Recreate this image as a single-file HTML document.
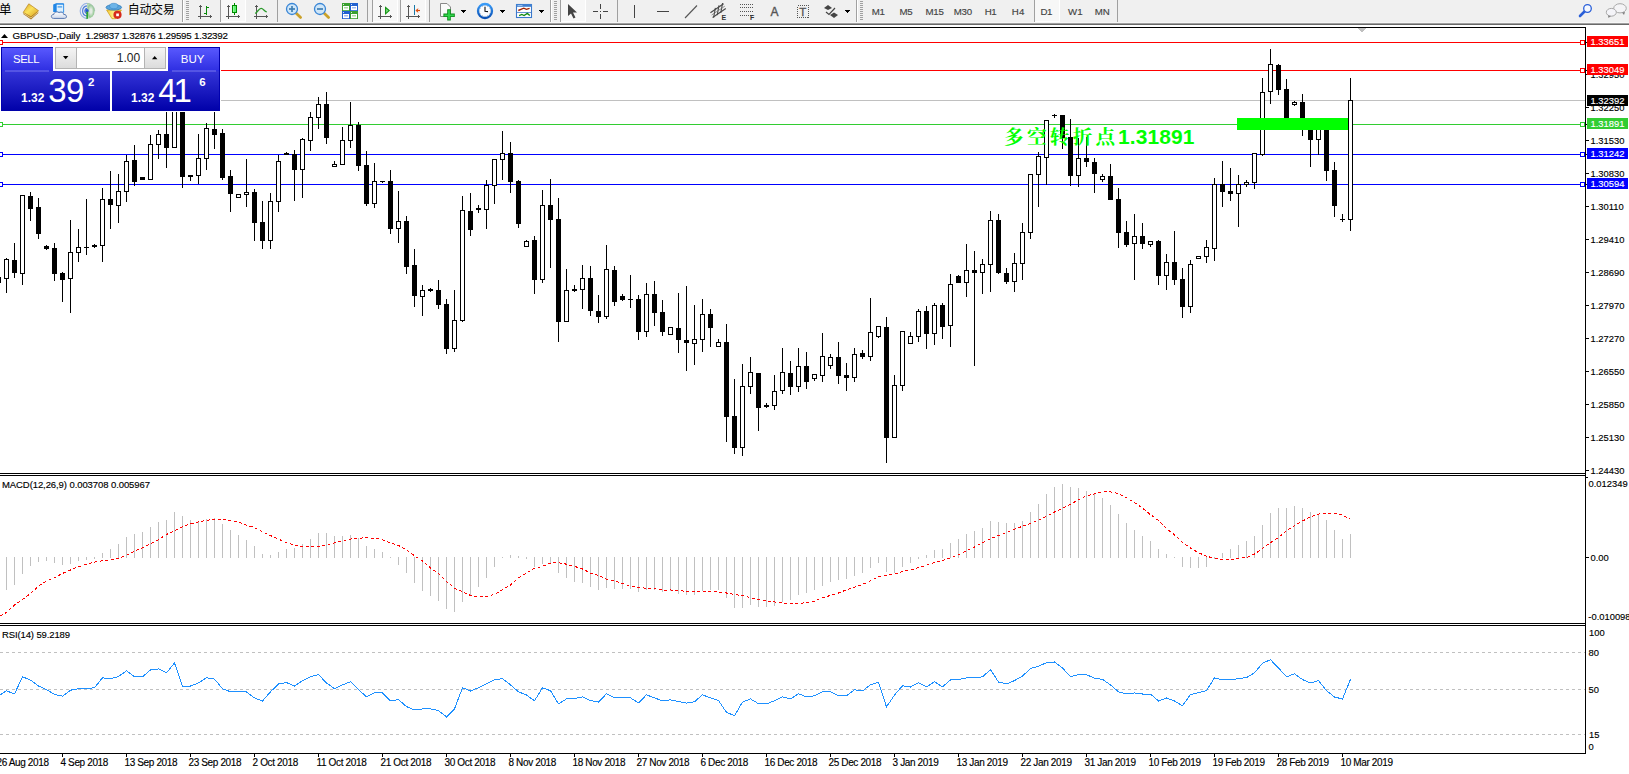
<!DOCTYPE html>
<html lang="zh"><head><meta charset="utf-8"><title>GBPUSD-,Daily</title>
<style>
html,body{margin:0;padding:0;background:#fff;overflow:hidden}
svg{display:block;font-family:"Liberation Sans","Noto Sans CJK SC",sans-serif}
text{white-space:pre}
</style></head><body>
<svg width="1629" height="774" viewBox="0 0 1629 774">
<rect x="0" y="0" width="1629" height="774" fill="#fff"/>
<g shape-rendering="crispEdges">
<rect x="0" y="100" width="1585" height="1" fill="#c0c0c0"/>
<rect x="0" y="42" width="1585" height="1" fill="#ff0000"/>
<rect x="0" y="70" width="1585" height="1" fill="#ff0000"/>
<rect x="0" y="124" width="1585" height="1" fill="#32cd32"/>
<rect x="0" y="154" width="1585" height="1" fill="#0000ff"/>
<rect x="0" y="184" width="1585" height="1" fill="#0000ff"/>
<rect x="-2" y="277" width="1" height="6" fill="#000"/>
<rect x="-4" y="277" width="5" height="6" fill="#000"/>
<rect x="6" y="258" width="1" height="35" fill="#000"/>
<rect x="4" y="259" width="5" height="20" fill="#000"/>
<rect x="5" y="260" width="3" height="18" fill="#fff"/>
<rect x="14" y="243" width="1" height="35" fill="#000"/>
<rect x="12" y="260" width="5" height="13" fill="#000"/>
<rect x="22" y="195" width="1" height="90" fill="#000"/>
<rect x="20" y="195" width="5" height="79" fill="#000"/>
<rect x="21" y="196" width="3" height="77" fill="#fff"/>
<rect x="30" y="192" width="1" height="29" fill="#000"/>
<rect x="28" y="196" width="5" height="13" fill="#000"/>
<rect x="38" y="198" width="1" height="41" fill="#000"/>
<rect x="36" y="207" width="5" height="27" fill="#000"/>
<rect x="46" y="245" width="1" height="5" fill="#000"/>
<rect x="44" y="246" width="5" height="3" fill="#000"/>
<rect x="54" y="243" width="1" height="38" fill="#000"/>
<rect x="52" y="248" width="5" height="26" fill="#000"/>
<rect x="62" y="272" width="1" height="30" fill="#000"/>
<rect x="60" y="273" width="5" height="7" fill="#000"/>
<rect x="70" y="220" width="1" height="93" fill="#000"/>
<rect x="68" y="252" width="5" height="27" fill="#000"/>
<rect x="69" y="253" width="3" height="25" fill="#fff"/>
<rect x="78" y="229" width="1" height="33" fill="#000"/>
<rect x="76" y="247" width="5" height="6" fill="#000"/>
<rect x="77" y="248" width="3" height="4" fill="#fff"/>
<rect x="86" y="199" width="1" height="56" fill="#000"/>
<rect x="84" y="247" width="5" height="1" fill="#000"/>
<rect x="94" y="244" width="1" height="4" fill="#000"/>
<rect x="92" y="245" width="5" height="2" fill="#000"/>
<rect x="102" y="188" width="1" height="74" fill="#000"/>
<rect x="100" y="199" width="5" height="47" fill="#000"/>
<rect x="101" y="200" width="3" height="45" fill="#fff"/>
<rect x="110" y="171" width="1" height="58" fill="#000"/>
<rect x="108" y="199" width="5" height="6" fill="#000"/>
<rect x="118" y="174" width="1" height="49" fill="#000"/>
<rect x="116" y="191" width="5" height="15" fill="#000"/>
<rect x="117" y="192" width="3" height="13" fill="#fff"/>
<rect x="126" y="155" width="1" height="47" fill="#000"/>
<rect x="124" y="161" width="5" height="31" fill="#000"/>
<rect x="125" y="162" width="3" height="29" fill="#fff"/>
<rect x="134" y="145" width="1" height="41" fill="#000"/>
<rect x="132" y="160" width="5" height="22" fill="#000"/>
<rect x="142" y="177" width="1" height="3" fill="#000"/>
<rect x="140" y="177" width="5" height="3" fill="#000"/>
<rect x="150" y="135" width="1" height="45" fill="#000"/>
<rect x="148" y="144" width="5" height="36" fill="#000"/>
<rect x="149" y="145" width="3" height="34" fill="#fff"/>
<rect x="158" y="130" width="1" height="29" fill="#000"/>
<rect x="156" y="134" width="5" height="11" fill="#000"/>
<rect x="157" y="135" width="3" height="9" fill="#fff"/>
<rect x="166" y="100" width="1" height="68" fill="#000"/>
<rect x="164" y="134" width="5" height="14" fill="#000"/>
<rect x="174" y="100" width="1" height="48" fill="#000"/>
<rect x="172" y="100" width="5" height="48" fill="#000"/>
<rect x="173" y="101" width="3" height="46" fill="#fff"/>
<rect x="182" y="100" width="1" height="88" fill="#000"/>
<rect x="180" y="100" width="5" height="77" fill="#000"/>
<rect x="190" y="175" width="1" height="6" fill="#000"/>
<rect x="188" y="175" width="5" height="2" fill="#000"/>
<rect x="198" y="134" width="1" height="50" fill="#000"/>
<rect x="196" y="158" width="5" height="18" fill="#000"/>
<rect x="197" y="159" width="3" height="16" fill="#fff"/>
<rect x="206" y="123" width="1" height="47" fill="#000"/>
<rect x="204" y="128" width="5" height="31" fill="#000"/>
<rect x="205" y="129" width="3" height="29" fill="#fff"/>
<rect x="214" y="100" width="1" height="49" fill="#000"/>
<rect x="212" y="129" width="5" height="6" fill="#000"/>
<rect x="222" y="129" width="1" height="51" fill="#000"/>
<rect x="220" y="133" width="5" height="45" fill="#000"/>
<rect x="230" y="170" width="1" height="42" fill="#000"/>
<rect x="228" y="176" width="5" height="18" fill="#000"/>
<rect x="238" y="194" width="1" height="4" fill="#000"/>
<rect x="236" y="194" width="5" height="4" fill="#000"/>
<rect x="237" y="195" width="3" height="2" fill="#fff"/>
<rect x="246" y="159" width="1" height="48" fill="#000"/>
<rect x="244" y="192" width="5" height="3" fill="#000"/>
<rect x="245" y="193" width="3" height="1" fill="#fff"/>
<rect x="254" y="189" width="1" height="52" fill="#000"/>
<rect x="252" y="192" width="5" height="31" fill="#000"/>
<rect x="262" y="201" width="1" height="48" fill="#000"/>
<rect x="260" y="222" width="5" height="19" fill="#000"/>
<rect x="270" y="193" width="1" height="56" fill="#000"/>
<rect x="268" y="201" width="5" height="40" fill="#000"/>
<rect x="269" y="202" width="3" height="38" fill="#fff"/>
<rect x="278" y="155" width="1" height="57" fill="#000"/>
<rect x="276" y="161" width="5" height="41" fill="#000"/>
<rect x="277" y="162" width="3" height="39" fill="#fff"/>
<rect x="286" y="152" width="1" height="3" fill="#000"/>
<rect x="284" y="153" width="5" height="2" fill="#000"/>
<rect x="294" y="150" width="1" height="51" fill="#000"/>
<rect x="292" y="154" width="5" height="16" fill="#000"/>
<rect x="302" y="138" width="1" height="60" fill="#000"/>
<rect x="300" y="139" width="5" height="31" fill="#000"/>
<rect x="301" y="140" width="3" height="29" fill="#fff"/>
<rect x="310" y="112" width="1" height="39" fill="#000"/>
<rect x="308" y="117" width="5" height="24" fill="#000"/>
<rect x="309" y="118" width="3" height="22" fill="#fff"/>
<rect x="318" y="97" width="1" height="32" fill="#000"/>
<rect x="316" y="104" width="5" height="14" fill="#000"/>
<rect x="317" y="105" width="3" height="12" fill="#fff"/>
<rect x="326" y="92" width="1" height="52" fill="#000"/>
<rect x="324" y="104" width="5" height="34" fill="#000"/>
<rect x="334" y="161" width="1" height="6" fill="#000"/>
<rect x="332" y="164" width="5" height="3" fill="#000"/>
<rect x="333" y="165" width="3" height="1" fill="#fff"/>
<rect x="342" y="127" width="1" height="38" fill="#000"/>
<rect x="340" y="140" width="5" height="25" fill="#000"/>
<rect x="341" y="141" width="3" height="23" fill="#fff"/>
<rect x="350" y="102" width="1" height="46" fill="#000"/>
<rect x="348" y="125" width="5" height="16" fill="#000"/>
<rect x="349" y="126" width="3" height="14" fill="#fff"/>
<rect x="358" y="122" width="1" height="49" fill="#000"/>
<rect x="356" y="125" width="5" height="41" fill="#000"/>
<rect x="366" y="151" width="1" height="55" fill="#000"/>
<rect x="364" y="165" width="5" height="39" fill="#000"/>
<rect x="374" y="163" width="1" height="45" fill="#000"/>
<rect x="372" y="181" width="5" height="23" fill="#000"/>
<rect x="373" y="182" width="3" height="21" fill="#fff"/>
<rect x="382" y="181" width="1" height="2" fill="#000"/>
<rect x="380" y="181" width="5" height="1" fill="#000"/>
<rect x="390" y="170" width="1" height="64" fill="#000"/>
<rect x="388" y="181" width="5" height="48" fill="#000"/>
<rect x="398" y="191" width="1" height="52" fill="#000"/>
<rect x="396" y="221" width="5" height="8" fill="#000"/>
<rect x="397" y="222" width="3" height="6" fill="#fff"/>
<rect x="406" y="216" width="1" height="58" fill="#000"/>
<rect x="404" y="221" width="5" height="46" fill="#000"/>
<rect x="414" y="249" width="1" height="58" fill="#000"/>
<rect x="412" y="265" width="5" height="31" fill="#000"/>
<rect x="422" y="285" width="1" height="31" fill="#000"/>
<rect x="420" y="290" width="5" height="7" fill="#000"/>
<rect x="421" y="291" width="3" height="5" fill="#fff"/>
<rect x="430" y="288" width="1" height="4" fill="#000"/>
<rect x="428" y="289" width="5" height="2" fill="#000"/>
<rect x="438" y="280" width="1" height="29" fill="#000"/>
<rect x="436" y="290" width="5" height="15" fill="#000"/>
<rect x="446" y="299" width="1" height="55" fill="#000"/>
<rect x="444" y="304" width="5" height="45" fill="#000"/>
<rect x="454" y="290" width="1" height="62" fill="#000"/>
<rect x="452" y="320" width="5" height="29" fill="#000"/>
<rect x="453" y="321" width="3" height="27" fill="#fff"/>
<rect x="462" y="196" width="1" height="126" fill="#000"/>
<rect x="460" y="210" width="5" height="111" fill="#000"/>
<rect x="461" y="211" width="3" height="109" fill="#fff"/>
<rect x="470" y="193" width="1" height="43" fill="#000"/>
<rect x="468" y="211" width="5" height="19" fill="#000"/>
<rect x="478" y="205" width="1" height="8" fill="#000"/>
<rect x="476" y="208" width="5" height="2" fill="#000"/>
<rect x="486" y="180" width="1" height="49" fill="#000"/>
<rect x="484" y="185" width="5" height="25" fill="#000"/>
<rect x="485" y="186" width="3" height="23" fill="#fff"/>
<rect x="494" y="159" width="1" height="45" fill="#000"/>
<rect x="492" y="159" width="5" height="27" fill="#000"/>
<rect x="493" y="160" width="3" height="25" fill="#fff"/>
<rect x="502" y="131" width="1" height="49" fill="#000"/>
<rect x="500" y="153" width="5" height="7" fill="#000"/>
<rect x="501" y="154" width="3" height="5" fill="#fff"/>
<rect x="510" y="142" width="1" height="51" fill="#000"/>
<rect x="508" y="153" width="5" height="29" fill="#000"/>
<rect x="518" y="180" width="1" height="48" fill="#000"/>
<rect x="516" y="181" width="5" height="43" fill="#000"/>
<rect x="526" y="240" width="1" height="7" fill="#000"/>
<rect x="524" y="241" width="5" height="6" fill="#000"/>
<rect x="525" y="242" width="3" height="4" fill="#fff"/>
<rect x="534" y="236" width="1" height="58" fill="#000"/>
<rect x="532" y="240" width="5" height="40" fill="#000"/>
<rect x="542" y="190" width="1" height="93" fill="#000"/>
<rect x="540" y="205" width="5" height="75" fill="#000"/>
<rect x="541" y="206" width="3" height="73" fill="#fff"/>
<rect x="550" y="179" width="1" height="89" fill="#000"/>
<rect x="548" y="205" width="5" height="15" fill="#000"/>
<rect x="558" y="198" width="1" height="144" fill="#000"/>
<rect x="556" y="219" width="5" height="103" fill="#000"/>
<rect x="566" y="269" width="1" height="53" fill="#000"/>
<rect x="564" y="290" width="5" height="32" fill="#000"/>
<rect x="565" y="291" width="3" height="30" fill="#fff"/>
<rect x="574" y="285" width="1" height="7" fill="#000"/>
<rect x="572" y="289" width="5" height="2" fill="#000"/>
<rect x="582" y="265" width="1" height="44" fill="#000"/>
<rect x="580" y="278" width="5" height="12" fill="#000"/>
<rect x="581" y="279" width="3" height="10" fill="#fff"/>
<rect x="590" y="266" width="1" height="50" fill="#000"/>
<rect x="588" y="278" width="5" height="33" fill="#000"/>
<rect x="598" y="295" width="1" height="28" fill="#000"/>
<rect x="596" y="311" width="5" height="6" fill="#000"/>
<rect x="606" y="245" width="1" height="74" fill="#000"/>
<rect x="604" y="269" width="5" height="48" fill="#000"/>
<rect x="605" y="270" width="3" height="46" fill="#fff"/>
<rect x="614" y="266" width="1" height="40" fill="#000"/>
<rect x="612" y="270" width="5" height="32" fill="#000"/>
<rect x="622" y="294" width="1" height="7" fill="#000"/>
<rect x="620" y="296" width="5" height="4" fill="#000"/>
<rect x="630" y="275" width="1" height="33" fill="#000"/>
<rect x="628" y="299" width="5" height="1" fill="#000"/>
<rect x="638" y="295" width="1" height="45" fill="#000"/>
<rect x="636" y="299" width="5" height="33" fill="#000"/>
<rect x="646" y="283" width="1" height="54" fill="#000"/>
<rect x="644" y="294" width="5" height="38" fill="#000"/>
<rect x="645" y="295" width="3" height="36" fill="#fff"/>
<rect x="654" y="281" width="1" height="45" fill="#000"/>
<rect x="652" y="294" width="5" height="19" fill="#000"/>
<rect x="662" y="300" width="1" height="36" fill="#000"/>
<rect x="660" y="312" width="5" height="20" fill="#000"/>
<rect x="670" y="327" width="1" height="8" fill="#000"/>
<rect x="668" y="327" width="5" height="8" fill="#000"/>
<rect x="669" y="328" width="3" height="6" fill="#fff"/>
<rect x="678" y="293" width="1" height="60" fill="#000"/>
<rect x="676" y="328" width="5" height="12" fill="#000"/>
<rect x="686" y="286" width="1" height="85" fill="#000"/>
<rect x="684" y="340" width="5" height="3" fill="#000"/>
<rect x="694" y="305" width="1" height="60" fill="#000"/>
<rect x="692" y="339" width="5" height="5" fill="#000"/>
<rect x="693" y="340" width="3" height="3" fill="#fff"/>
<rect x="702" y="299" width="1" height="53" fill="#000"/>
<rect x="700" y="314" width="5" height="26" fill="#000"/>
<rect x="701" y="315" width="3" height="24" fill="#fff"/>
<rect x="710" y="309" width="1" height="38" fill="#000"/>
<rect x="708" y="314" width="5" height="14" fill="#000"/>
<rect x="718" y="339" width="1" height="8" fill="#000"/>
<rect x="716" y="342" width="5" height="5" fill="#000"/>
<rect x="717" y="343" width="3" height="3" fill="#fff"/>
<rect x="726" y="324" width="1" height="118" fill="#000"/>
<rect x="724" y="342" width="5" height="75" fill="#000"/>
<rect x="734" y="379" width="1" height="75" fill="#000"/>
<rect x="732" y="416" width="5" height="32" fill="#000"/>
<rect x="742" y="364" width="1" height="92" fill="#000"/>
<rect x="740" y="386" width="5" height="62" fill="#000"/>
<rect x="741" y="387" width="3" height="60" fill="#fff"/>
<rect x="750" y="357" width="1" height="37" fill="#000"/>
<rect x="748" y="372" width="5" height="15" fill="#000"/>
<rect x="749" y="373" width="3" height="13" fill="#fff"/>
<rect x="758" y="373" width="1" height="58" fill="#000"/>
<rect x="756" y="373" width="5" height="35" fill="#000"/>
<rect x="766" y="403" width="1" height="5" fill="#000"/>
<rect x="764" y="405" width="5" height="2" fill="#000"/>
<rect x="774" y="375" width="1" height="35" fill="#000"/>
<rect x="772" y="391" width="5" height="15" fill="#000"/>
<rect x="773" y="392" width="3" height="13" fill="#fff"/>
<rect x="782" y="348" width="1" height="46" fill="#000"/>
<rect x="780" y="372" width="5" height="19" fill="#000"/>
<rect x="781" y="373" width="3" height="17" fill="#fff"/>
<rect x="790" y="361" width="1" height="34" fill="#000"/>
<rect x="788" y="373" width="5" height="14" fill="#000"/>
<rect x="798" y="348" width="1" height="44" fill="#000"/>
<rect x="796" y="366" width="5" height="21" fill="#000"/>
<rect x="797" y="367" width="3" height="19" fill="#fff"/>
<rect x="806" y="352" width="1" height="37" fill="#000"/>
<rect x="804" y="366" width="5" height="16" fill="#000"/>
<rect x="814" y="374" width="1" height="7" fill="#000"/>
<rect x="812" y="374" width="5" height="5" fill="#000"/>
<rect x="813" y="375" width="3" height="3" fill="#fff"/>
<rect x="822" y="333" width="1" height="49" fill="#000"/>
<rect x="820" y="356" width="5" height="20" fill="#000"/>
<rect x="821" y="357" width="3" height="18" fill="#fff"/>
<rect x="830" y="354" width="1" height="15" fill="#000"/>
<rect x="828" y="357" width="5" height="9" fill="#000"/>
<rect x="829" y="358" width="3" height="7" fill="#fff"/>
<rect x="838" y="342" width="1" height="42" fill="#000"/>
<rect x="836" y="357" width="5" height="19" fill="#000"/>
<rect x="846" y="363" width="1" height="28" fill="#000"/>
<rect x="844" y="375" width="5" height="3" fill="#000"/>
<rect x="854" y="348" width="1" height="34" fill="#000"/>
<rect x="852" y="354" width="5" height="24" fill="#000"/>
<rect x="853" y="355" width="3" height="22" fill="#fff"/>
<rect x="862" y="350" width="1" height="9" fill="#000"/>
<rect x="860" y="353" width="5" height="4" fill="#000"/>
<rect x="870" y="298" width="1" height="63" fill="#000"/>
<rect x="868" y="332" width="5" height="25" fill="#000"/>
<rect x="869" y="333" width="3" height="23" fill="#fff"/>
<rect x="878" y="326" width="1" height="12" fill="#000"/>
<rect x="876" y="326" width="5" height="11" fill="#000"/>
<rect x="877" y="327" width="3" height="9" fill="#fff"/>
<rect x="886" y="317" width="1" height="146" fill="#000"/>
<rect x="884" y="327" width="5" height="111" fill="#000"/>
<rect x="894" y="375" width="1" height="63" fill="#000"/>
<rect x="892" y="385" width="5" height="53" fill="#000"/>
<rect x="893" y="386" width="3" height="51" fill="#fff"/>
<rect x="902" y="331" width="1" height="60" fill="#000"/>
<rect x="900" y="331" width="5" height="55" fill="#000"/>
<rect x="901" y="332" width="3" height="53" fill="#fff"/>
<rect x="910" y="332" width="1" height="12" fill="#000"/>
<rect x="908" y="336" width="5" height="8" fill="#000"/>
<rect x="909" y="337" width="3" height="6" fill="#fff"/>
<rect x="918" y="309" width="1" height="33" fill="#000"/>
<rect x="916" y="311" width="5" height="26" fill="#000"/>
<rect x="917" y="312" width="3" height="24" fill="#fff"/>
<rect x="926" y="306" width="1" height="43" fill="#000"/>
<rect x="924" y="311" width="5" height="23" fill="#000"/>
<rect x="934" y="303" width="1" height="42" fill="#000"/>
<rect x="932" y="305" width="5" height="29" fill="#000"/>
<rect x="933" y="306" width="3" height="27" fill="#fff"/>
<rect x="942" y="303" width="1" height="36" fill="#000"/>
<rect x="940" y="305" width="5" height="22" fill="#000"/>
<rect x="950" y="274" width="1" height="73" fill="#000"/>
<rect x="948" y="284" width="5" height="42" fill="#000"/>
<rect x="949" y="285" width="3" height="40" fill="#fff"/>
<rect x="958" y="275" width="1" height="8" fill="#000"/>
<rect x="956" y="276" width="5" height="7" fill="#000"/>
<rect x="966" y="244" width="1" height="53" fill="#000"/>
<rect x="964" y="270" width="5" height="13" fill="#000"/>
<rect x="965" y="271" width="3" height="11" fill="#fff"/>
<rect x="974" y="251" width="1" height="115" fill="#000"/>
<rect x="972" y="270" width="5" height="3" fill="#000"/>
<rect x="982" y="259" width="1" height="35" fill="#000"/>
<rect x="980" y="264" width="5" height="9" fill="#000"/>
<rect x="981" y="265" width="3" height="7" fill="#fff"/>
<rect x="990" y="211" width="1" height="81" fill="#000"/>
<rect x="988" y="220" width="5" height="45" fill="#000"/>
<rect x="989" y="221" width="3" height="43" fill="#fff"/>
<rect x="998" y="214" width="1" height="60" fill="#000"/>
<rect x="996" y="220" width="5" height="53" fill="#000"/>
<rect x="1006" y="268" width="1" height="16" fill="#000"/>
<rect x="1004" y="273" width="5" height="9" fill="#000"/>
<rect x="1014" y="253" width="1" height="39" fill="#000"/>
<rect x="1012" y="263" width="5" height="19" fill="#000"/>
<rect x="1013" y="264" width="3" height="17" fill="#fff"/>
<rect x="1022" y="223" width="1" height="57" fill="#000"/>
<rect x="1020" y="232" width="5" height="32" fill="#000"/>
<rect x="1021" y="233" width="3" height="30" fill="#fff"/>
<rect x="1030" y="174" width="1" height="65" fill="#000"/>
<rect x="1028" y="174" width="5" height="59" fill="#000"/>
<rect x="1029" y="175" width="3" height="57" fill="#fff"/>
<rect x="1038" y="152" width="1" height="55" fill="#000"/>
<rect x="1036" y="156" width="5" height="19" fill="#000"/>
<rect x="1037" y="157" width="3" height="17" fill="#fff"/>
<rect x="1046" y="120" width="1" height="65" fill="#000"/>
<rect x="1044" y="120" width="5" height="38" fill="#000"/>
<rect x="1045" y="121" width="3" height="36" fill="#fff"/>
<rect x="1054" y="114" width="1" height="4" fill="#000"/>
<rect x="1052" y="115" width="5" height="1" fill="#000"/>
<rect x="1062" y="115" width="1" height="34" fill="#000"/>
<rect x="1060" y="115" width="5" height="23" fill="#000"/>
<rect x="1070" y="119" width="1" height="67" fill="#000"/>
<rect x="1068" y="137" width="5" height="39" fill="#000"/>
<rect x="1078" y="138" width="1" height="49" fill="#000"/>
<rect x="1076" y="158" width="5" height="18" fill="#000"/>
<rect x="1077" y="159" width="3" height="16" fill="#fff"/>
<rect x="1086" y="137" width="1" height="30" fill="#000"/>
<rect x="1084" y="158" width="5" height="4" fill="#000"/>
<rect x="1094" y="158" width="1" height="35" fill="#000"/>
<rect x="1092" y="162" width="5" height="12" fill="#000"/>
<rect x="1102" y="174" width="1" height="8" fill="#000"/>
<rect x="1100" y="176" width="5" height="4" fill="#000"/>
<rect x="1101" y="177" width="3" height="2" fill="#fff"/>
<rect x="1110" y="164" width="1" height="36" fill="#000"/>
<rect x="1108" y="176" width="5" height="24" fill="#000"/>
<rect x="1118" y="188" width="1" height="60" fill="#000"/>
<rect x="1116" y="199" width="5" height="34" fill="#000"/>
<rect x="1126" y="221" width="1" height="26" fill="#000"/>
<rect x="1124" y="232" width="5" height="13" fill="#000"/>
<rect x="1134" y="214" width="1" height="66" fill="#000"/>
<rect x="1132" y="236" width="5" height="8" fill="#000"/>
<rect x="1133" y="237" width="3" height="6" fill="#fff"/>
<rect x="1142" y="223" width="1" height="26" fill="#000"/>
<rect x="1140" y="236" width="5" height="8" fill="#000"/>
<rect x="1150" y="241" width="1" height="6" fill="#000"/>
<rect x="1148" y="241" width="5" height="4" fill="#000"/>
<rect x="1149" y="242" width="3" height="2" fill="#fff"/>
<rect x="1158" y="240" width="1" height="45" fill="#000"/>
<rect x="1156" y="241" width="5" height="35" fill="#000"/>
<rect x="1166" y="254" width="1" height="36" fill="#000"/>
<rect x="1164" y="262" width="5" height="14" fill="#000"/>
<rect x="1165" y="263" width="3" height="12" fill="#fff"/>
<rect x="1174" y="231" width="1" height="54" fill="#000"/>
<rect x="1172" y="262" width="5" height="18" fill="#000"/>
<rect x="1182" y="268" width="1" height="50" fill="#000"/>
<rect x="1180" y="279" width="5" height="28" fill="#000"/>
<rect x="1190" y="260" width="1" height="53" fill="#000"/>
<rect x="1188" y="264" width="5" height="43" fill="#000"/>
<rect x="1189" y="265" width="3" height="41" fill="#fff"/>
<rect x="1198" y="256" width="1" height="3" fill="#000"/>
<rect x="1196" y="256" width="5" height="3" fill="#000"/>
<rect x="1197" y="257" width="3" height="1" fill="#fff"/>
<rect x="1206" y="240" width="1" height="23" fill="#000"/>
<rect x="1204" y="247" width="5" height="10" fill="#000"/>
<rect x="1205" y="248" width="3" height="8" fill="#fff"/>
<rect x="1214" y="178" width="1" height="83" fill="#000"/>
<rect x="1212" y="184" width="5" height="65" fill="#000"/>
<rect x="1213" y="185" width="3" height="63" fill="#fff"/>
<rect x="1222" y="161" width="1" height="46" fill="#000"/>
<rect x="1220" y="184" width="5" height="8" fill="#000"/>
<rect x="1230" y="168" width="1" height="33" fill="#000"/>
<rect x="1228" y="191" width="5" height="3" fill="#000"/>
<rect x="1238" y="175" width="1" height="52" fill="#000"/>
<rect x="1236" y="184" width="5" height="10" fill="#000"/>
<rect x="1237" y="185" width="3" height="8" fill="#fff"/>
<rect x="1246" y="180" width="1" height="7" fill="#000"/>
<rect x="1244" y="182" width="5" height="3" fill="#000"/>
<rect x="1245" y="183" width="3" height="1" fill="#fff"/>
<rect x="1254" y="153" width="1" height="36" fill="#000"/>
<rect x="1252" y="153" width="5" height="30" fill="#000"/>
<rect x="1253" y="154" width="3" height="28" fill="#fff"/>
<rect x="1262" y="78" width="1" height="78" fill="#000"/>
<rect x="1260" y="92" width="5" height="63" fill="#000"/>
<rect x="1261" y="93" width="3" height="61" fill="#fff"/>
<rect x="1270" y="49" width="1" height="55" fill="#000"/>
<rect x="1268" y="64" width="5" height="28" fill="#000"/>
<rect x="1269" y="65" width="3" height="26" fill="#fff"/>
<rect x="1278" y="64" width="1" height="31" fill="#000"/>
<rect x="1276" y="65" width="5" height="25" fill="#000"/>
<rect x="1286" y="79" width="1" height="44" fill="#000"/>
<rect x="1284" y="89" width="5" height="34" fill="#000"/>
<rect x="1294" y="101" width="1" height="5" fill="#000"/>
<rect x="1292" y="102" width="5" height="3" fill="#000"/>
<rect x="1293" y="103" width="3" height="1" fill="#fff"/>
<rect x="1302" y="94" width="1" height="42" fill="#000"/>
<rect x="1300" y="102" width="5" height="21" fill="#000"/>
<rect x="1310" y="122" width="1" height="45" fill="#000"/>
<rect x="1308" y="122" width="5" height="18" fill="#000"/>
<rect x="1318" y="122" width="1" height="33" fill="#000"/>
<rect x="1316" y="122" width="5" height="18" fill="#000"/>
<rect x="1317" y="123" width="3" height="16" fill="#fff"/>
<rect x="1326" y="122" width="1" height="59" fill="#000"/>
<rect x="1324" y="122" width="5" height="49" fill="#000"/>
<rect x="1334" y="162" width="1" height="55" fill="#000"/>
<rect x="1332" y="170" width="5" height="36" fill="#000"/>
<rect x="1342" y="214" width="1" height="8" fill="#000"/>
<rect x="1340" y="219" width="5" height="1" fill="#000"/>
<rect x="1350" y="78" width="1" height="153" fill="#000"/>
<rect x="1348" y="100" width="5" height="120" fill="#000"/>
<rect x="1349" y="101" width="3" height="118" fill="#fff"/>
<rect x="1237" y="118" width="111" height="12" fill="#00ff00"/>
<rect x="1350" y="78" width="1" height="153" fill="#000"/>
<rect x="1348" y="100" width="5" height="120" fill="#000"/>
<rect x="1349" y="101" width="3" height="118" fill="#fff"/>
<rect x="-2" y="40" width="5" height="5" fill="#ff0000"/>
<rect x="-1" y="41" width="3" height="3" fill="#fff"/>
<rect x="1580" y="40" width="5" height="5" fill="#ff0000"/>
<rect x="1581" y="41" width="3" height="3" fill="#fff"/>
<rect x="-2" y="68" width="5" height="5" fill="#ff0000"/>
<rect x="-1" y="69" width="3" height="3" fill="#fff"/>
<rect x="1580" y="68" width="5" height="5" fill="#ff0000"/>
<rect x="1581" y="69" width="3" height="3" fill="#fff"/>
<rect x="-2" y="122" width="5" height="5" fill="#32cd32"/>
<rect x="-1" y="123" width="3" height="3" fill="#fff"/>
<rect x="1580" y="122" width="5" height="5" fill="#32cd32"/>
<rect x="1581" y="123" width="3" height="3" fill="#fff"/>
<rect x="-2" y="152" width="5" height="5" fill="#0000ff"/>
<rect x="-1" y="153" width="3" height="3" fill="#fff"/>
<rect x="1580" y="152" width="5" height="5" fill="#0000ff"/>
<rect x="1581" y="153" width="3" height="3" fill="#fff"/>
<rect x="-2" y="182" width="5" height="5" fill="#0000ff"/>
<rect x="-1" y="183" width="3" height="3" fill="#fff"/>
<rect x="1580" y="182" width="5" height="5" fill="#0000ff"/>
<rect x="1581" y="183" width="3" height="3" fill="#fff"/>
<polygon points="1357,28 1366.5,28 1361.7,32.7" fill="#c0c0c0"/>
<rect x="6" y="557" width="1" height="33" fill="#c0c0c0"/>
<rect x="14" y="557" width="1" height="28" fill="#c0c0c0"/>
<rect x="22" y="557" width="1" height="17" fill="#c0c0c0"/>
<rect x="30" y="557" width="1" height="9" fill="#c0c0c0"/>
<rect x="38" y="557" width="1" height="5" fill="#c0c0c0"/>
<rect x="46" y="557" width="1" height="4" fill="#c0c0c0"/>
<rect x="54" y="557" width="1" height="6" fill="#c0c0c0"/>
<rect x="62" y="557" width="1" height="8" fill="#c0c0c0"/>
<rect x="70" y="557" width="1" height="7" fill="#c0c0c0"/>
<rect x="78" y="557" width="1" height="4" fill="#c0c0c0"/>
<rect x="86" y="557" width="1" height="3" fill="#c0c0c0"/>
<rect x="94" y="557" width="1" height="2" fill="#c0c0c0"/>
<rect x="102" y="553" width="1" height="5" fill="#c0c0c0"/>
<rect x="110" y="549" width="1" height="9" fill="#c0c0c0"/>
<rect x="118" y="544" width="1" height="14" fill="#c0c0c0"/>
<rect x="126" y="537" width="1" height="21" fill="#c0c0c0"/>
<rect x="134" y="534" width="1" height="24" fill="#c0c0c0"/>
<rect x="142" y="532" width="1" height="26" fill="#c0c0c0"/>
<rect x="150" y="527" width="1" height="31" fill="#c0c0c0"/>
<rect x="158" y="522" width="1" height="36" fill="#c0c0c0"/>
<rect x="166" y="520" width="1" height="38" fill="#c0c0c0"/>
<rect x="174" y="512" width="1" height="46" fill="#c0c0c0"/>
<rect x="182" y="516" width="1" height="42" fill="#c0c0c0"/>
<rect x="190" y="520" width="1" height="38" fill="#c0c0c0"/>
<rect x="198" y="521" width="1" height="37" fill="#c0c0c0"/>
<rect x="206" y="519" width="1" height="39" fill="#c0c0c0"/>
<rect x="214" y="518" width="1" height="40" fill="#c0c0c0"/>
<rect x="222" y="524" width="1" height="34" fill="#c0c0c0"/>
<rect x="230" y="530" width="1" height="28" fill="#c0c0c0"/>
<rect x="238" y="535" width="1" height="23" fill="#c0c0c0"/>
<rect x="246" y="540" width="1" height="18" fill="#c0c0c0"/>
<rect x="254" y="546" width="1" height="12" fill="#c0c0c0"/>
<rect x="262" y="554" width="1" height="4" fill="#c0c0c0"/>
<rect x="270" y="555" width="1" height="3" fill="#c0c0c0"/>
<rect x="278" y="552" width="1" height="6" fill="#c0c0c0"/>
<rect x="286" y="549" width="1" height="9" fill="#c0c0c0"/>
<rect x="294" y="548" width="1" height="10" fill="#c0c0c0"/>
<rect x="302" y="544" width="1" height="14" fill="#c0c0c0"/>
<rect x="310" y="539" width="1" height="19" fill="#c0c0c0"/>
<rect x="318" y="533" width="1" height="25" fill="#c0c0c0"/>
<rect x="326" y="533" width="1" height="25" fill="#c0c0c0"/>
<rect x="334" y="536" width="1" height="22" fill="#c0c0c0"/>
<rect x="342" y="536" width="1" height="22" fill="#c0c0c0"/>
<rect x="350" y="535" width="1" height="23" fill="#c0c0c0"/>
<rect x="358" y="538" width="1" height="20" fill="#c0c0c0"/>
<rect x="366" y="546" width="1" height="12" fill="#c0c0c0"/>
<rect x="374" y="549" width="1" height="9" fill="#c0c0c0"/>
<rect x="382" y="552" width="1" height="6" fill="#c0c0c0"/>
<rect x="390" y="557" width="1" height="1" fill="#c0c0c0"/>
<rect x="398" y="557" width="1" height="8" fill="#c0c0c0"/>
<rect x="406" y="557" width="1" height="16" fill="#c0c0c0"/>
<rect x="414" y="557" width="1" height="26" fill="#c0c0c0"/>
<rect x="422" y="557" width="1" height="34" fill="#c0c0c0"/>
<rect x="430" y="557" width="1" height="39" fill="#c0c0c0"/>
<rect x="438" y="557" width="1" height="44" fill="#c0c0c0"/>
<rect x="446" y="557" width="1" height="52" fill="#c0c0c0"/>
<rect x="454" y="557" width="1" height="55" fill="#c0c0c0"/>
<rect x="462" y="557" width="1" height="45" fill="#c0c0c0"/>
<rect x="470" y="557" width="1" height="38" fill="#c0c0c0"/>
<rect x="478" y="557" width="1" height="30" fill="#c0c0c0"/>
<rect x="486" y="557" width="1" height="21" fill="#c0c0c0"/>
<rect x="494" y="557" width="1" height="10" fill="#c0c0c0"/>
<rect x="502" y="557" width="1" height="1" fill="#c0c0c0"/>
<rect x="510" y="555" width="1" height="3" fill="#c0c0c0"/>
<rect x="518" y="556" width="1" height="2" fill="#c0c0c0"/>
<rect x="526" y="557" width="1" height="2" fill="#c0c0c0"/>
<rect x="534" y="557" width="1" height="10" fill="#c0c0c0"/>
<rect x="542" y="557" width="1" height="7" fill="#c0c0c0"/>
<rect x="550" y="557" width="1" height="6" fill="#c0c0c0"/>
<rect x="558" y="557" width="1" height="16" fill="#c0c0c0"/>
<rect x="566" y="557" width="1" height="21" fill="#c0c0c0"/>
<rect x="574" y="557" width="1" height="25" fill="#c0c0c0"/>
<rect x="582" y="557" width="1" height="26" fill="#c0c0c0"/>
<rect x="590" y="557" width="1" height="30" fill="#c0c0c0"/>
<rect x="598" y="557" width="1" height="33" fill="#c0c0c0"/>
<rect x="606" y="557" width="1" height="31" fill="#c0c0c0"/>
<rect x="614" y="557" width="1" height="32" fill="#c0c0c0"/>
<rect x="622" y="557" width="1" height="32" fill="#c0c0c0"/>
<rect x="630" y="557" width="1" height="32" fill="#c0c0c0"/>
<rect x="638" y="557" width="1" height="35" fill="#c0c0c0"/>
<rect x="646" y="557" width="1" height="33" fill="#c0c0c0"/>
<rect x="654" y="557" width="1" height="33" fill="#c0c0c0"/>
<rect x="662" y="557" width="1" height="35" fill="#c0c0c0"/>
<rect x="670" y="557" width="1" height="34" fill="#c0c0c0"/>
<rect x="678" y="557" width="1" height="37" fill="#c0c0c0"/>
<rect x="686" y="557" width="1" height="38" fill="#c0c0c0"/>
<rect x="694" y="557" width="1" height="38" fill="#c0c0c0"/>
<rect x="702" y="557" width="1" height="34" fill="#c0c0c0"/>
<rect x="710" y="557" width="1" height="33" fill="#c0c0c0"/>
<rect x="718" y="557" width="1" height="33" fill="#c0c0c0"/>
<rect x="726" y="557" width="1" height="41" fill="#c0c0c0"/>
<rect x="734" y="557" width="1" height="51" fill="#c0c0c0"/>
<rect x="742" y="557" width="1" height="51" fill="#c0c0c0"/>
<rect x="750" y="557" width="1" height="48" fill="#c0c0c0"/>
<rect x="758" y="557" width="1" height="50" fill="#c0c0c0"/>
<rect x="766" y="557" width="1" height="50" fill="#c0c0c0"/>
<rect x="774" y="557" width="1" height="49" fill="#c0c0c0"/>
<rect x="782" y="557" width="1" height="45" fill="#c0c0c0"/>
<rect x="790" y="557" width="1" height="43" fill="#c0c0c0"/>
<rect x="798" y="557" width="1" height="38" fill="#c0c0c0"/>
<rect x="806" y="557" width="1" height="36" fill="#c0c0c0"/>
<rect x="814" y="557" width="1" height="33" fill="#c0c0c0"/>
<rect x="822" y="557" width="1" height="29" fill="#c0c0c0"/>
<rect x="830" y="557" width="1" height="25" fill="#c0c0c0"/>
<rect x="838" y="557" width="1" height="23" fill="#c0c0c0"/>
<rect x="846" y="557" width="1" height="22" fill="#c0c0c0"/>
<rect x="854" y="557" width="1" height="19" fill="#c0c0c0"/>
<rect x="862" y="557" width="1" height="16" fill="#c0c0c0"/>
<rect x="870" y="557" width="1" height="11" fill="#c0c0c0"/>
<rect x="878" y="557" width="1" height="6" fill="#c0c0c0"/>
<rect x="886" y="557" width="1" height="15" fill="#c0c0c0"/>
<rect x="894" y="557" width="1" height="16" fill="#c0c0c0"/>
<rect x="902" y="557" width="1" height="10" fill="#c0c0c0"/>
<rect x="910" y="557" width="1" height="6" fill="#c0c0c0"/>
<rect x="918" y="557" width="1" height="2" fill="#c0c0c0"/>
<rect x="926" y="555" width="1" height="3" fill="#c0c0c0"/>
<rect x="934" y="550" width="1" height="8" fill="#c0c0c0"/>
<rect x="942" y="549" width="1" height="9" fill="#c0c0c0"/>
<rect x="950" y="543" width="1" height="15" fill="#c0c0c0"/>
<rect x="958" y="539" width="1" height="19" fill="#c0c0c0"/>
<rect x="966" y="534" width="1" height="24" fill="#c0c0c0"/>
<rect x="974" y="531" width="1" height="27" fill="#c0c0c0"/>
<rect x="982" y="528" width="1" height="30" fill="#c0c0c0"/>
<rect x="990" y="521" width="1" height="37" fill="#c0c0c0"/>
<rect x="998" y="522" width="1" height="36" fill="#c0c0c0"/>
<rect x="1006" y="523" width="1" height="35" fill="#c0c0c0"/>
<rect x="1014" y="523" width="1" height="35" fill="#c0c0c0"/>
<rect x="1022" y="521" width="1" height="37" fill="#c0c0c0"/>
<rect x="1030" y="512" width="1" height="46" fill="#c0c0c0"/>
<rect x="1038" y="504" width="1" height="54" fill="#c0c0c0"/>
<rect x="1046" y="494" width="1" height="64" fill="#c0c0c0"/>
<rect x="1054" y="487" width="1" height="71" fill="#c0c0c0"/>
<rect x="1062" y="484" width="1" height="74" fill="#c0c0c0"/>
<rect x="1070" y="487" width="1" height="71" fill="#c0c0c0"/>
<rect x="1078" y="488" width="1" height="70" fill="#c0c0c0"/>
<rect x="1086" y="491" width="1" height="67" fill="#c0c0c0"/>
<rect x="1094" y="494" width="1" height="64" fill="#c0c0c0"/>
<rect x="1102" y="498" width="1" height="60" fill="#c0c0c0"/>
<rect x="1110" y="505" width="1" height="53" fill="#c0c0c0"/>
<rect x="1118" y="514" width="1" height="44" fill="#c0c0c0"/>
<rect x="1126" y="523" width="1" height="35" fill="#c0c0c0"/>
<rect x="1134" y="530" width="1" height="28" fill="#c0c0c0"/>
<rect x="1142" y="536" width="1" height="22" fill="#c0c0c0"/>
<rect x="1150" y="541" width="1" height="17" fill="#c0c0c0"/>
<rect x="1158" y="549" width="1" height="9" fill="#c0c0c0"/>
<rect x="1166" y="554" width="1" height="4" fill="#c0c0c0"/>
<rect x="1174" y="557" width="1" height="1" fill="#c0c0c0"/>
<rect x="1182" y="557" width="1" height="10" fill="#c0c0c0"/>
<rect x="1190" y="557" width="1" height="11" fill="#c0c0c0"/>
<rect x="1198" y="557" width="1" height="11" fill="#c0c0c0"/>
<rect x="1206" y="557" width="1" height="10" fill="#c0c0c0"/>
<rect x="1214" y="557" width="1" height="2" fill="#c0c0c0"/>
<rect x="1222" y="553" width="1" height="5" fill="#c0c0c0"/>
<rect x="1230" y="549" width="1" height="9" fill="#c0c0c0"/>
<rect x="1238" y="545" width="1" height="13" fill="#c0c0c0"/>
<rect x="1246" y="541" width="1" height="17" fill="#c0c0c0"/>
<rect x="1254" y="536" width="1" height="22" fill="#c0c0c0"/>
<rect x="1262" y="525" width="1" height="33" fill="#c0c0c0"/>
<rect x="1270" y="513" width="1" height="45" fill="#c0c0c0"/>
<rect x="1278" y="508" width="1" height="50" fill="#c0c0c0"/>
<rect x="1286" y="508" width="1" height="50" fill="#c0c0c0"/>
<rect x="1294" y="506" width="1" height="52" fill="#c0c0c0"/>
<rect x="1302" y="508" width="1" height="50" fill="#c0c0c0"/>
<rect x="1310" y="512" width="1" height="46" fill="#c0c0c0"/>
<rect x="1318" y="514" width="1" height="44" fill="#c0c0c0"/>
<rect x="1326" y="520" width="1" height="38" fill="#c0c0c0"/>
<rect x="1334" y="530" width="1" height="28" fill="#c0c0c0"/>
<rect x="1342" y="539" width="1" height="19" fill="#c0c0c0"/>
<rect x="1350" y="534" width="1" height="24" fill="#c0c0c0"/>
</g>
<polyline points="0.0,615.9 6.5,612.5 14.5,604.9 22.5,599.5 30.5,593.5 38.5,586.1 46.5,580.9 54.5,577.7 62.5,573.5 70.5,570.0 78.5,566.7 86.5,564.2 94.5,562.1 102.5,560.8 110.5,559.6 118.5,558.5 126.5,555.2 134.5,551.2 142.5,547.9 150.5,543.7 158.5,539.7 166.5,534.5 174.5,530.8 182.5,526.6 190.5,523.9 198.5,521.8 206.5,520.3 214.5,519.3 222.5,519.1 230.5,520.3 238.5,522.0 246.5,525.1 254.5,527.6 262.5,531.8 270.5,535.6 278.5,539.1 286.5,542.9 294.5,545.0 302.5,546.4 310.5,547.0 318.5,546.8 326.5,545.0 334.5,542.9 342.5,540.8 350.5,539.1 358.5,538.1 366.5,537.9 374.5,538.1 382.5,539.7 390.5,542.9 398.5,545.4 406.5,550.0 414.5,555.8 422.5,561.0 430.5,567.9 438.5,573.6 446.5,581.3 454.5,588.2 462.5,591.7 470.5,595.5 478.5,596.9 486.5,596.7 494.5,594.4 502.5,589.8 510.5,585.0 518.5,578.1 526.5,572.9 534.5,568.3 542.5,566.3 550.5,563.1 558.5,562.7 566.5,564.2 574.5,566.3 582.5,569.0 590.5,573.1 598.5,575.6 606.5,579.2 614.5,580.9 622.5,583.6 630.5,586.1 638.5,587.5 646.5,588.2 654.5,588.8 662.5,590.1 670.5,590.0 678.5,590.9 686.5,591.1 694.5,591.7 702.5,591.9 710.5,591.9 718.5,591.9 726.5,593.0 734.5,594.4 742.5,595.7 750.5,597.6 758.5,599.6 766.5,601.1 774.5,601.9 782.5,603.0 790.5,603.6 798.5,603.8 806.5,602.4 814.5,601.1 822.5,597.6 830.5,595.5 838.5,593.0 846.5,589.8 854.5,587.1 862.5,584.4 870.5,580.9 878.5,576.7 886.5,575.2 894.5,574.0 902.5,571.5 910.5,569.8 918.5,567.7 926.5,565.2 934.5,562.5 942.5,560.6 950.5,557.9 958.5,554.8 966.5,550.8 974.5,547.0 982.5,542.9 990.5,538.7 998.5,535.6 1006.5,532.5 1014.5,529.3 1022.5,526.2 1030.5,523.5 1038.5,520.3 1046.5,516.2 1054.5,512.0 1062.5,508.2 1070.5,504.1 1078.5,499.9 1086.5,495.9 1094.5,493.8 1102.5,491.9 1110.5,491.9 1118.5,493.6 1126.5,497.8 1134.5,502.6 1142.5,508.2 1150.5,514.7 1158.5,520.3 1166.5,528.7 1174.5,534.9 1182.5,542.2 1190.5,548.1 1198.5,552.7 1206.5,556.2 1214.5,558.3 1222.5,559.6 1230.5,559.6 1238.5,558.5 1246.5,557.5 1254.5,554.1 1262.5,548.5 1270.5,542.7 1278.5,537.4 1286.5,530.8 1294.5,525.5 1302.5,521.0 1310.5,516.8 1318.5,514.1 1326.5,513.0 1334.5,513.2 1342.5,515.1 1350.5,519.3" fill="none" stroke="#ff0000" stroke-width="1" stroke-dasharray="3 2.5" shape-rendering="crispEdges"/>
<g shape-rendering="crispEdges">
<line x1="0" y1="652.5" x2="1585" y2="652.5" stroke="#c0c0c0" stroke-width="1" stroke-dasharray="3 3"/>
<line x1="0" y1="689.5" x2="1585" y2="689.5" stroke="#c0c0c0" stroke-width="1" stroke-dasharray="3 3"/>
<line x1="0" y1="734.5" x2="1585" y2="734.5" stroke="#c0c0c0" stroke-width="1" stroke-dasharray="3 3"/>
</g>
<polyline points="0.0,695.0 6.5,690.8 14.5,693.9 22.5,676.8 30.5,680.1 38.5,686.0 46.5,689.5 54.5,694.5 62.5,696.2 70.5,690.2 78.5,688.7 86.5,688.9 94.5,687.7 102.5,677.8 110.5,678.7 118.5,676.6 126.5,670.7 134.5,676.8 142.5,676.8 150.5,669.9 158.5,668.9 166.5,672.8 174.5,663.0 182.5,686.0 190.5,686.0 198.5,682.9 206.5,677.8 214.5,679.1 222.5,688.7 230.5,691.8 238.5,691.8 246.5,692.0 254.5,697.9 262.5,701.0 270.5,691.8 278.5,683.9 286.5,682.6 294.5,686.0 302.5,680.8 310.5,676.6 318.5,674.7 326.5,682.9 334.5,688.7 342.5,684.9 350.5,681.8 358.5,689.7 366.5,696.8 374.5,692.7 382.5,692.9 390.5,700.8 398.5,699.6 406.5,706.6 414.5,710.0 422.5,708.9 430.5,708.9 438.5,710.6 446.5,716.9 454.5,708.9 462.5,687.7 470.5,691.0 478.5,687.7 486.5,683.7 494.5,679.7 502.5,678.7 510.5,684.9 518.5,691.8 526.5,695.0 534.5,700.8 542.5,687.7 550.5,690.8 558.5,703.9 566.5,698.9 574.5,698.7 582.5,696.8 590.5,700.6 598.5,702.1 606.5,693.7 614.5,697.9 622.5,697.9 630.5,697.9 638.5,702.9 646.5,694.8 654.5,697.9 662.5,700.9 670.5,699.8 678.5,701.6 686.5,703.1 694.5,701.8 702.5,694.8 710.5,697.9 718.5,700.6 726.5,712.3 734.5,715.8 742.5,702.1 750.5,698.9 758.5,703.7 766.5,703.9 774.5,700.8 782.5,696.8 790.5,698.9 798.5,693.7 806.5,697.0 814.5,695.8 822.5,691.8 830.5,691.8 838.5,695.8 846.5,695.8 854.5,689.7 862.5,691.0 870.5,684.7 878.5,682.4 886.5,706.9 894.5,695.0 902.5,685.8 910.5,687.0 918.5,682.6 926.5,686.8 934.5,681.8 942.5,686.8 950.5,679.9 958.5,679.7 966.5,677.8 974.5,677.8 982.5,676.8 990.5,669.7 998.5,682.0 1006.5,683.9 1014.5,680.6 1022.5,676.1 1030.5,668.5 1038.5,666.3 1046.5,662.7 1054.5,662.0 1062.5,668.0 1070.5,676.8 1078.5,674.6 1086.5,674.8 1094.5,678.1 1102.5,679.4 1110.5,684.9 1118.5,691.9 1126.5,694.0 1134.5,692.9 1142.5,694.0 1150.5,694.0 1158.5,701.0 1166.5,698.0 1174.5,701.0 1182.5,705.8 1190.5,694.5 1198.5,692.7 1206.5,690.7 1214.5,677.8 1222.5,679.9 1230.5,679.9 1238.5,678.6 1246.5,677.6 1254.5,672.8 1262.5,663.2 1270.5,659.7 1278.5,668.0 1286.5,676.8 1294.5,673.8 1302.5,679.6 1310.5,682.9 1318.5,680.6 1326.5,690.7 1334.5,697.0 1342.5,699.0 1350.5,679.4" fill="none" stroke="#1e90ff" stroke-width="1" shape-rendering="crispEdges"/>
<g shape-rendering="crispEdges">
<rect x="0" y="27" width="1586" height="1" fill="#000"/>
<rect x="1585" y="27" width="1" height="727" fill="#000"/>
<rect x="0" y="473" width="1586" height="1" fill="#000"/>
<rect x="0" y="475" width="1586" height="1" fill="#000"/>
<rect x="0" y="623" width="1586" height="1" fill="#000"/>
<rect x="0" y="625" width="1586" height="1" fill="#000"/>
<rect x="0" y="753" width="1586" height="1" fill="#000"/>
<rect x="1586" y="74" width="3" height="1" fill="#000"/>
<rect x="1586" y="107" width="3" height="1" fill="#000"/>
<rect x="1586" y="140" width="3" height="1" fill="#000"/>
<rect x="1586" y="173" width="3" height="1" fill="#000"/>
<rect x="1586" y="206" width="3" height="1" fill="#000"/>
<rect x="1586" y="239" width="3" height="1" fill="#000"/>
<rect x="1586" y="272" width="3" height="1" fill="#000"/>
<rect x="1586" y="305" width="3" height="1" fill="#000"/>
<rect x="1586" y="338" width="3" height="1" fill="#000"/>
<rect x="1586" y="371" width="3" height="1" fill="#000"/>
<rect x="1586" y="404" width="3" height="1" fill="#000"/>
<rect x="1586" y="437" width="3" height="1" fill="#000"/>
<rect x="1586" y="470" width="3" height="1" fill="#000"/>
<rect x="1586" y="557" width="3" height="1" fill="#000"/>
<rect x="1586" y="477" width="2" height="1" fill="#000"/>
<rect x="-2" y="754" width="1" height="3" fill="#000"/>
<rect x="62" y="754" width="1" height="3" fill="#000"/>
<rect x="126" y="754" width="1" height="3" fill="#000"/>
<rect x="190" y="754" width="1" height="3" fill="#000"/>
<rect x="254" y="754" width="1" height="3" fill="#000"/>
<rect x="318" y="754" width="1" height="3" fill="#000"/>
<rect x="382" y="754" width="1" height="3" fill="#000"/>
<rect x="446" y="754" width="1" height="3" fill="#000"/>
<rect x="510" y="754" width="1" height="3" fill="#000"/>
<rect x="574" y="754" width="1" height="3" fill="#000"/>
<rect x="638" y="754" width="1" height="3" fill="#000"/>
<rect x="702" y="754" width="1" height="3" fill="#000"/>
<rect x="766" y="754" width="1" height="3" fill="#000"/>
<rect x="830" y="754" width="1" height="3" fill="#000"/>
<rect x="894" y="754" width="1" height="3" fill="#000"/>
<rect x="958" y="754" width="1" height="3" fill="#000"/>
<rect x="1022" y="754" width="1" height="3" fill="#000"/>
<rect x="1086" y="754" width="1" height="3" fill="#000"/>
<rect x="1150" y="754" width="1" height="3" fill="#000"/>
<rect x="1214" y="754" width="1" height="3" fill="#000"/>
<rect x="1278" y="754" width="1" height="3" fill="#000"/>
<rect x="1342" y="754" width="1" height="3" fill="#000"/>
</g>
<text x="1590.5" y="77.6" font-size="9.4" fill="#000" stroke="#000" stroke-width="0.14">1.32950</text>
<text x="1590.5" y="110.6" font-size="9.4" fill="#000" stroke="#000" stroke-width="0.14">1.32250</text>
<text x="1590.5" y="143.6" font-size="9.4" fill="#000" stroke="#000" stroke-width="0.14">1.31530</text>
<text x="1590.5" y="176.6" font-size="9.4" fill="#000" stroke="#000" stroke-width="0.14">1.30830</text>
<text x="1590.5" y="209.6" font-size="9.4" fill="#000" stroke="#000" stroke-width="0.14">1.30110</text>
<text x="1590.5" y="242.6" font-size="9.4" fill="#000" stroke="#000" stroke-width="0.14">1.29410</text>
<text x="1590.5" y="275.6" font-size="9.4" fill="#000" stroke="#000" stroke-width="0.14">1.28690</text>
<text x="1590.5" y="308.6" font-size="9.4" fill="#000" stroke="#000" stroke-width="0.14">1.27970</text>
<text x="1590.5" y="341.6" font-size="9.4" fill="#000" stroke="#000" stroke-width="0.14">1.27270</text>
<text x="1590.5" y="374.6" font-size="9.4" fill="#000" stroke="#000" stroke-width="0.14">1.26550</text>
<text x="1590.5" y="407.6" font-size="9.4" fill="#000" stroke="#000" stroke-width="0.14">1.25850</text>
<text x="1590.5" y="440.6" font-size="9.4" fill="#000" stroke="#000" stroke-width="0.14">1.25130</text>
<text x="1590.5" y="473.6" font-size="9.4" fill="#000" stroke="#000" stroke-width="0.14">1.24430</text>
<text x="1588.5" y="486.6" font-size="9.4" fill="#000" stroke="#000" stroke-width="0.14">0.012349</text>
<text x="1590.5" y="560.6" font-size="9.4" fill="#000" stroke="#000" stroke-width="0.14">0.00</text>
<text x="1588.3" y="620.3" font-size="9.4" fill="#000" stroke="#000" stroke-width="0.14">-0.010098</text>
<text x="1589" y="636" font-size="9.4" fill="#000" stroke="#000" stroke-width="0.14">100</text>
<text x="1588.5" y="655.7" font-size="9.4" fill="#000" stroke="#000" stroke-width="0.14">80</text>
<text x="1588.5" y="692.7" font-size="9.4" fill="#000" stroke="#000" stroke-width="0.14">50</text>
<text x="1589" y="737.7" font-size="9.4" fill="#000" stroke="#000" stroke-width="0.14">15</text>
<text x="1588.5" y="749.6" font-size="9.4" fill="#000" stroke="#000" stroke-width="0.14">0</text>
<rect x="1586" y="42" width="1" height="1" fill="#000" shape-rendering="crispEdges"/>
<rect x="1587" y="36" width="41" height="11" fill="#ff0000" shape-rendering="crispEdges"/>
<text x="1590.5" y="45" font-size="9.4" fill="#fff" stroke="#fff" stroke-width="0.14">1.33651</text>
<rect x="1586" y="70" width="1" height="1" fill="#000" shape-rendering="crispEdges"/>
<rect x="1587" y="64" width="41" height="11" fill="#ff0000" shape-rendering="crispEdges"/>
<text x="1590.5" y="73" font-size="9.4" fill="#fff" stroke="#fff" stroke-width="0.14">1.33049</text>
<rect x="1586" y="124" width="1" height="1" fill="#000" shape-rendering="crispEdges"/>
<rect x="1587" y="118" width="41" height="11" fill="#32cd32" shape-rendering="crispEdges"/>
<text x="1590.5" y="127" font-size="9.4" fill="#fff" stroke="#fff" stroke-width="0.14">1.31891</text>
<rect x="1586" y="154" width="1" height="1" fill="#000" shape-rendering="crispEdges"/>
<rect x="1587" y="148" width="41" height="11" fill="#0000ff" shape-rendering="crispEdges"/>
<text x="1590.5" y="157" font-size="9.4" fill="#fff" stroke="#fff" stroke-width="0.14">1.31242</text>
<rect x="1586" y="184" width="1" height="1" fill="#000" shape-rendering="crispEdges"/>
<rect x="1587" y="178" width="41" height="11" fill="#0000ff" shape-rendering="crispEdges"/>
<text x="1590.5" y="187" font-size="9.4" fill="#fff" stroke="#fff" stroke-width="0.14">1.30594</text>
<rect x="1587" y="95" width="41" height="11" fill="#000" shape-rendering="crispEdges"/>
<text x="1590.5" y="104" font-size="9.4" fill="#fff" stroke="#fff" stroke-width="0.14">1.32392</text>
<text x="-3.5" y="766" font-size="10" fill="#000" letter-spacing="-0.365" stroke="#000" stroke-width="0.14">26 Aug 2018</text>
<text x="60.5" y="766" font-size="10" fill="#000" letter-spacing="-0.369" stroke="#000" stroke-width="0.14">4 Sep 2018</text>
<text x="124.5" y="766" font-size="10" fill="#000" letter-spacing="-0.369" stroke="#000" stroke-width="0.14">13 Sep 2018</text>
<text x="188.5" y="766" font-size="10" fill="#000" letter-spacing="-0.369" stroke="#000" stroke-width="0.14">23 Sep 2018</text>
<text x="252.5" y="766" font-size="10" fill="#000" letter-spacing="-0.353" stroke="#000" stroke-width="0.14">2 Oct 2018</text>
<text x="316.5" y="766" font-size="10" fill="#000" letter-spacing="-0.349" stroke="#000" stroke-width="0.14">11 Oct 2018</text>
<text x="380.5" y="766" font-size="10" fill="#000" letter-spacing="-0.354" stroke="#000" stroke-width="0.14">21 Oct 2018</text>
<text x="444.5" y="766" font-size="10" fill="#000" letter-spacing="-0.354" stroke="#000" stroke-width="0.14">30 Oct 2018</text>
<text x="508.5" y="766" font-size="10" fill="#000" letter-spacing="-0.369" stroke="#000" stroke-width="0.14">8 Nov 2018</text>
<text x="572.5" y="766" font-size="10" fill="#000" letter-spacing="-0.369" stroke="#000" stroke-width="0.14">18 Nov 2018</text>
<text x="636.5" y="766" font-size="10" fill="#000" letter-spacing="-0.369" stroke="#000" stroke-width="0.14">27 Nov 2018</text>
<text x="700.5" y="766" font-size="10" fill="#000" letter-spacing="-0.369" stroke="#000" stroke-width="0.14">6 Dec 2018</text>
<text x="764.5" y="766" font-size="10" fill="#000" letter-spacing="-0.369" stroke="#000" stroke-width="0.14">16 Dec 2018</text>
<text x="828.5" y="766" font-size="10" fill="#000" letter-spacing="-0.369" stroke="#000" stroke-width="0.14">25 Dec 2018</text>
<text x="892.5" y="766" font-size="10" fill="#000" letter-spacing="-0.357" stroke="#000" stroke-width="0.14">3 Jan 2019</text>
<text x="956.5" y="766" font-size="10" fill="#000" letter-spacing="-0.358" stroke="#000" stroke-width="0.14">13 Jan 2019</text>
<text x="1020.5" y="766" font-size="10" fill="#000" letter-spacing="-0.358" stroke="#000" stroke-width="0.14">22 Jan 2019</text>
<text x="1084.5" y="766" font-size="10" fill="#000" letter-spacing="-0.358" stroke="#000" stroke-width="0.14">31 Jan 2019</text>
<text x="1148.5" y="766" font-size="10" fill="#000" letter-spacing="-0.365" stroke="#000" stroke-width="0.14">10 Feb 2019</text>
<text x="1212.5" y="766" font-size="10" fill="#000" letter-spacing="-0.365" stroke="#000" stroke-width="0.14">19 Feb 2019</text>
<text x="1276.5" y="766" font-size="10" fill="#000" letter-spacing="-0.365" stroke="#000" stroke-width="0.14">28 Feb 2019</text>
<text x="1340.5" y="766" font-size="10" fill="#000" letter-spacing="-0.365" stroke="#000" stroke-width="0.14">10 Mar 2019</text>
<text x="2" y="488" font-size="9.5" fill="#000" letter-spacing="-0.084" stroke="#000" stroke-width="0.14">MACD(12,26,9) 0.003708 0.005967</text>
<text x="2" y="638" font-size="9.5" fill="#000" letter-spacing="-0.122" stroke="#000" stroke-width="0.14">RSI(14) 59.2189</text>
<polygon points="1,38 8,38 4.5,34" fill="#000"/>
<text x="12.5" y="38.6" font-size="9.8" fill="#000" letter-spacing="-0.113" stroke="#000" stroke-width="0.14">GBPUSD-,Daily</text>
<text x="85.5" y="38.6" font-size="9.8" fill="#000" letter-spacing="-0.246" stroke="#000" stroke-width="0.14">1.29837 1.32876 1.29595 1.32392</text>
<text x="1004.0" y="143.8" font-size="19.6" fill="#00ff00" font-weight="bold" font-family='"Liberation Serif","Noto Serif CJK SC",serif' letter-spacing="3.3">多空转折点</text>
<text x="1118" y="143.9" font-size="21" fill="#00ff00" font-weight="bold" letter-spacing="0.098">1.31891</text>
<rect x="0" y="0" width="1629" height="23" fill="#f0f0f0"/>
<rect x="0" y="22" width="1629" height="1" fill="#f7f7f7" shape-rendering="crispEdges"/>
<rect x="0" y="23" width="1629" height="1" fill="#a0a0a0" shape-rendering="crispEdges"/>
<rect x="0" y="24" width="1629" height="1" fill="#696969" shape-rendering="crispEdges"/>
<rect x="0" y="25" width="1629" height="2" fill="#fff" shape-rendering="crispEdges"/>
<text x="-1" y="14" font-size="12.5" fill="#000" font-family='"Liberation Sans","Noto Sans CJK SC",sans-serif'>单</text>
<text x="127.7" y="14" font-size="12" fill="#000" font-family='"Liberation Sans","Noto Sans CJK SC",sans-serif' letter-spacing="-0.3">自动交易</text>
<rect x="182" y="0" width="1" height="22" fill="#a0a0a0" shape-rendering="crispEdges"/>
<rect x="183" y="0" width="1" height="22" fill="#fff" shape-rendering="crispEdges"/>
<rect x="220" y="0" width="1" height="22" fill="#a0a0a0" shape-rendering="crispEdges"/>
<rect x="277" y="0" width="1" height="22" fill="#a0a0a0" shape-rendering="crispEdges"/>
<rect x="367" y="0" width="1" height="22" fill="#a0a0a0" shape-rendering="crispEdges"/>
<rect x="372" y="0" width="1" height="22" fill="#a0a0a0" shape-rendering="crispEdges"/>
<rect x="400" y="0" width="1" height="22" fill="#a0a0a0" shape-rendering="crispEdges"/>
<rect x="429" y="0" width="1" height="22" fill="#a0a0a0" shape-rendering="crispEdges"/>
<rect x="550" y="0" width="1" height="22" fill="#a0a0a0" shape-rendering="crispEdges"/>
<rect x="551" y="0" width="1" height="22" fill="#fff" shape-rendering="crispEdges"/>
<rect x="560" y="0" width="1" height="22" fill="#a0a0a0" shape-rendering="crispEdges"/>
<rect x="617" y="0" width="1" height="22" fill="#a0a0a0" shape-rendering="crispEdges"/>
<rect x="856" y="0" width="1" height="22" fill="#a0a0a0" shape-rendering="crispEdges"/>
<rect x="857" y="0" width="1" height="22" fill="#fff" shape-rendering="crispEdges"/>
<rect x="1034" y="0" width="1" height="22" fill="#a0a0a0" shape-rendering="crispEdges"/>
<rect x="1117" y="0" width="1" height="22" fill="#a0a0a0" shape-rendering="crispEdges"/>
<rect x="186" y="1" width="3" height="1" fill="#a0a0a0" shape-rendering="crispEdges"/>
<rect x="186" y="3" width="3" height="1" fill="#a0a0a0" shape-rendering="crispEdges"/>
<rect x="186" y="5" width="3" height="1" fill="#a0a0a0" shape-rendering="crispEdges"/>
<rect x="186" y="7" width="3" height="1" fill="#a0a0a0" shape-rendering="crispEdges"/>
<rect x="186" y="9" width="3" height="1" fill="#a0a0a0" shape-rendering="crispEdges"/>
<rect x="186" y="11" width="3" height="1" fill="#a0a0a0" shape-rendering="crispEdges"/>
<rect x="186" y="13" width="3" height="1" fill="#a0a0a0" shape-rendering="crispEdges"/>
<rect x="186" y="15" width="3" height="1" fill="#a0a0a0" shape-rendering="crispEdges"/>
<rect x="186" y="17" width="3" height="1" fill="#a0a0a0" shape-rendering="crispEdges"/>
<rect x="186" y="19" width="3" height="1" fill="#a0a0a0" shape-rendering="crispEdges"/>
<rect x="554" y="1" width="3" height="1" fill="#a0a0a0" shape-rendering="crispEdges"/>
<rect x="554" y="3" width="3" height="1" fill="#a0a0a0" shape-rendering="crispEdges"/>
<rect x="554" y="5" width="3" height="1" fill="#a0a0a0" shape-rendering="crispEdges"/>
<rect x="554" y="7" width="3" height="1" fill="#a0a0a0" shape-rendering="crispEdges"/>
<rect x="554" y="9" width="3" height="1" fill="#a0a0a0" shape-rendering="crispEdges"/>
<rect x="554" y="11" width="3" height="1" fill="#a0a0a0" shape-rendering="crispEdges"/>
<rect x="554" y="13" width="3" height="1" fill="#a0a0a0" shape-rendering="crispEdges"/>
<rect x="554" y="15" width="3" height="1" fill="#a0a0a0" shape-rendering="crispEdges"/>
<rect x="554" y="17" width="3" height="1" fill="#a0a0a0" shape-rendering="crispEdges"/>
<rect x="554" y="19" width="3" height="1" fill="#a0a0a0" shape-rendering="crispEdges"/>
<rect x="860" y="1" width="3" height="1" fill="#a0a0a0" shape-rendering="crispEdges"/>
<rect x="860" y="3" width="3" height="1" fill="#a0a0a0" shape-rendering="crispEdges"/>
<rect x="860" y="5" width="3" height="1" fill="#a0a0a0" shape-rendering="crispEdges"/>
<rect x="860" y="7" width="3" height="1" fill="#a0a0a0" shape-rendering="crispEdges"/>
<rect x="860" y="9" width="3" height="1" fill="#a0a0a0" shape-rendering="crispEdges"/>
<rect x="860" y="11" width="3" height="1" fill="#a0a0a0" shape-rendering="crispEdges"/>
<rect x="860" y="13" width="3" height="1" fill="#a0a0a0" shape-rendering="crispEdges"/>
<rect x="860" y="15" width="3" height="1" fill="#a0a0a0" shape-rendering="crispEdges"/>
<rect x="860" y="17" width="3" height="1" fill="#a0a0a0" shape-rendering="crispEdges"/>
<rect x="860" y="19" width="3" height="1" fill="#a0a0a0" shape-rendering="crispEdges"/>
<rect x="221" y="0" width="25" height="22" fill="#fff"/><rect x="221" y="0" width="24" height="21" fill="#f7f7f7"/>
<rect x="373" y="0" width="25" height="22" fill="#fff"/><rect x="373" y="0" width="24" height="21" fill="#f7f7f7"/>
<rect x="401" y="0" width="25" height="22" fill="#fff"/><rect x="401" y="0" width="24" height="21" fill="#f7f7f7"/>
<rect x="561" y="0" width="25" height="22" fill="#fff"/><rect x="561" y="0" width="24" height="21" fill="#f7f7f7"/>
<rect x="1035" y="0" width="25" height="22" fill="#fff"/><rect x="1035" y="0" width="24" height="21" fill="#f7f7f7"/>
<defs>
<linearGradient id="gbk" x1="0" y1="0" x2="1" y2="1"><stop offset="0" stop-color="#d9a228"/><stop offset="0.45" stop-color="#fbe25a"/><stop offset="1" stop-color="#d79a1e"/></linearGradient>
<radialGradient id="gsg" cx="0.5" cy="0.5" r="0.5"><stop offset="0.25" stop-color="#4aa84a" stop-opacity="0.08"/><stop offset="0.8" stop-color="#4aa84a" stop-opacity="0.55"/><stop offset="1" stop-color="#4aa84a" stop-opacity="0.35"/></radialGradient>
<linearGradient id="gcl" x1="0" y1="0" x2="0" y2="1"><stop offset="0" stop-color="#ffffff"/><stop offset="1" stop-color="#cfd8ea"/></linearGradient>
<linearGradient id="gfn" x1="0" y1="0" x2="1" y2="0"><stop offset="0" stop-color="#f2c838"/><stop offset="0.5" stop-color="#fff08a"/><stop offset="1" stop-color="#f0c030"/></linearGradient>
</defs>
<polygon points="23.2,14 28.8,5 38.6,12.8 31,19.4" fill="#a8741a"/>
<polygon points="23.2,12.4 28.8,3.8 38.6,10.8 31,16.8" fill="url(#gbk)" stroke="#b8821c" stroke-width="0.7"/>
<path d="M23.8 13.4 L31 18 L38.2 12" stroke="#f3dfa0" stroke-width="0.8" fill="none"/>
<polygon points="53.2,4.6 56.2,3.2 63.7,3.2 63.7,12 53.2,12" fill="#1f86e6"/>
<rect x="56.2" y="4.2" width="7.5" height="8" fill="#dff0fc" stroke="#1f86e6" stroke-width="0.8"/>
<rect x="57.6" y="6.3" width="4.6" height="1.2" fill="#3a96ea"/>
<path d="M53.6 18.4 C50.6 18.4 50.6 14.4 53.8 14.4 C54 11.8 57.8 11 59 13 C60.4 11.4 63.6 12.2 63.6 14.4 C67 14 67.6 18.4 64.4 18.4 Z" fill="url(#gcl)" stroke="#5878b0" stroke-width="1"/>
<path d="M87 3.2 A7.8 7.8 0 0 1 87 18.8 Z" fill="url(#gsg)"/>
<path d="M87 18.6 A7.7 7.7 0 0 1 87 3.3" fill="none" stroke="#7c9fe2" stroke-width="1.1" opacity="0.8"/>
<path d="M87 16 A5.1 5.1 0 0 1 87 5.9" fill="none" stroke="#4f7fdc" stroke-width="1.2"/>
<path d="M87 13.6 A2.7 2.7 0 0 1 87 8.3" fill="none" stroke="#3a6ad8" stroke-width="1.1"/>
<path d="M87 3.3 A7.7 7.7 0 0 1 94.7 11" fill="none" stroke="#9cc0a8" stroke-width="1" opacity="0.8"/>
<circle cx="87" cy="10.8" r="1.7" fill="#2456d4"/>
<rect x="86.4" y="11.6" width="1.5" height="7.2" fill="#22a022"/>
<polygon points="106.6,10 121.4,10 115.6,18.7 112,18.7" fill="url(#gfn)" stroke="#d2a21e" stroke-width="0.8"/>
<ellipse cx="113.8" cy="7.4" rx="7.8" ry="2.7" fill="#5aa6de" stroke="#2a78ba" stroke-width="0.8"/>
<ellipse cx="113.8" cy="6" rx="4.2" ry="2.7" fill="#6cb4e8" stroke="#3a88c8" stroke-width="0.6"/>
<circle cx="117.5" cy="14.8" r="4.1" fill="#d62a1c"/>
<rect x="116.2" y="13.5" width="2.7" height="2.7" fill="#fff"/>
<g fill="#555" shape-rendering="crispEdges"><rect x="200" y="5" width="1" height="14"/><rect x="198" y="16" width="14" height="1"/><rect x="199" y="6" width="3" height="1"/><rect x="210" y="15" width="1" height="3"/></g>
<g fill="#0a8a0a" shape-rendering="crispEdges"><rect x="206" y="6" width="1" height="9"/><rect x="207" y="7" width="2" height="1"/><rect x="204" y="13" width="2" height="1"/></g>
<g fill="#555" shape-rendering="crispEdges"><rect x="228" y="5" width="1" height="14"/><rect x="226" y="16" width="14" height="1"/><rect x="227" y="6" width="3" height="1"/><rect x="238" y="15" width="1" height="3"/></g>
<g shape-rendering="crispEdges"><rect x="234" y="3" width="1" height="12" fill="#008a00"/><rect x="232" y="5" width="5" height="8" fill="#008a00"/><rect x="233" y="6" width="3" height="6" fill="#5cf06c"/><rect x="233" y="6" width="1" height="6" fill="#8cff98"/></g>
<g fill="#555" shape-rendering="crispEdges"><rect x="256" y="5" width="1" height="14"/><rect x="254" y="16" width="14" height="1"/><rect x="255" y="6" width="3" height="1"/><rect x="266" y="15" width="1" height="3"/></g>
<path d="M255.2 13.6 C258 11.5 259 8.3 261.2 8.4 C263.2 8.5 264.2 11.2 266.8 12" stroke="#2a9a2a" stroke-width="1.3" fill="none"/>
<path d="M296.2 13.2 L300.6 17.4" stroke="#caa12a" stroke-width="2.8" stroke-linecap="round"/>
<circle cx="292" cy="9" r="5.5" fill="#cfe6f8" stroke="#3a86d6" stroke-width="1.3"/>
<path d="M289 9 H295" stroke="#3f7fb4" stroke-width="1.7"/>
<path d="M292 6 V12" stroke="#3f7fb4" stroke-width="1.7"/>
<path d="M324.2 13.2 L328.6 17.4" stroke="#caa12a" stroke-width="2.8" stroke-linecap="round"/>
<circle cx="320" cy="9" r="5.5" fill="#cfe6f8" stroke="#3a86d6" stroke-width="1.3"/>
<path d="M317 9 H323" stroke="#3f7fb4" stroke-width="1.7"/>
<rect x="342" y="3" width="8" height="8" fill="#3aa030"/><rect x="350" y="3" width="8" height="8" fill="#2060d0"/>
<rect x="342" y="11" width="8" height="8" fill="#2060d0"/><rect x="350" y="11" width="8" height="8" fill="#3aa030"/>
<rect x="343" y="6" width="6" height="4.2" fill="#fff"/><rect x="344" y="7.2" width="4" height="1.2" fill="#9ad08a"/><rect x="343" y="4" width="1" height="1" fill="#fff" opacity="0.8"/>
<rect x="344.4" y="9.4" width="3.2" height="0.9" fill="#9ad08a" opacity="0.0"/>
<rect x="351" y="6" width="6" height="4.2" fill="#fff"/><rect x="352" y="7.2" width="4" height="1.2" fill="#8aa8ea"/><rect x="351" y="4" width="1" height="1" fill="#fff" opacity="0.8"/>
<rect x="352.4" y="9.4" width="3.2" height="0.9" fill="#8aa8ea" opacity="0.0"/>
<rect x="343" y="14" width="6" height="4.2" fill="#fff"/><rect x="344" y="15.2" width="4" height="1.2" fill="#8aa8ea"/><rect x="343" y="12" width="1" height="1" fill="#fff" opacity="0.8"/>
<rect x="344.4" y="17.4" width="3.2" height="0.9" fill="#8aa8ea" opacity="0.0"/>
<rect x="351" y="14" width="6" height="4.2" fill="#fff"/><rect x="352" y="15.2" width="4" height="1.2" fill="#9ad08a"/><rect x="351" y="12" width="1" height="1" fill="#fff" opacity="0.8"/>
<rect x="352.4" y="17.4" width="3.2" height="0.9" fill="#9ad08a" opacity="0.0"/>
<g fill="#555" shape-rendering="crispEdges"><rect x="380" y="5" width="1" height="14"/><rect x="378" y="16" width="14" height="1"/><rect x="379" y="6" width="3" height="1"/><rect x="390" y="15" width="1" height="3"/></g>
<polygon points="385.6,7.4 385.6,13.8 389.2,10.6" fill="#7ae07a" stroke="#109010" stroke-width="1.1"/>
<g fill="#555" shape-rendering="crispEdges"><rect x="408" y="5" width="1" height="14"/><rect x="406" y="16" width="14" height="1"/><rect x="407" y="6" width="3" height="1"/><rect x="418" y="15" width="1" height="3"/></g>
<rect x="414" y="5" width="1" height="10" fill="#1878a8" shape-rendering="crispEdges"/><path d="M420 10.5 H416" stroke="#d84808" stroke-width="1.2" fill="none"/><polygon points="415.4,10.5 418.4,8 417.6,10.5 418.4,13" fill="#e05010"/>
<path d="M440.5 3.5 H447 L450.5 7 V16.5 H440.5 Z" fill="#fafafa" stroke="#888" stroke-width="1"/>
<path d="M449 9.3 V20.4 M443.4 15.3 H454.8" stroke="#0a8a1a" stroke-width="3.6"/><path d="M449 10.2 V19.5 M444.3 15.3 H453.9" stroke="#2fd44a" stroke-width="1.8"/>
<g fill="#000" shape-rendering="crispEdges"><rect x="461" y="10" width="5" height="1"/><rect x="462" y="11" width="3" height="1"/><rect x="463" y="12" width="1" height="1"/></g>
<g fill="#000" shape-rendering="crispEdges"><rect x="500" y="10" width="5" height="1"/><rect x="501" y="11" width="3" height="1"/><rect x="502" y="12" width="1" height="1"/></g>
<g fill="#000" shape-rendering="crispEdges"><rect x="539" y="10" width="5" height="1"/><rect x="540" y="11" width="3" height="1"/><rect x="541" y="12" width="1" height="1"/></g>
<g fill="#000" shape-rendering="crispEdges"><rect x="845" y="10" width="5" height="1"/><rect x="846" y="11" width="3" height="1"/><rect x="847" y="12" width="1" height="1"/></g>
<defs><linearGradient id="gck" x1="0" y1="0" x2="0" y2="1"><stop offset="0" stop-color="#3a9cf8"/><stop offset="1" stop-color="#0a50b4"/></linearGradient></defs>
<circle cx="485" cy="11" r="7" fill="#fafcff" stroke="url(#gck)" stroke-width="2.3"/>
<circle cx="485.00" cy="5.80" r="0.45" fill="#9a9a9a"/>
<circle cx="487.60" cy="6.50" r="0.45" fill="#9a9a9a"/>
<circle cx="489.50" cy="8.40" r="0.45" fill="#9a9a9a"/>
<circle cx="490.20" cy="11.00" r="0.45" fill="#9a9a9a"/>
<circle cx="489.50" cy="13.60" r="0.45" fill="#9a9a9a"/>
<circle cx="487.60" cy="15.50" r="0.45" fill="#9a9a9a"/>
<circle cx="485.00" cy="16.20" r="0.45" fill="#9a9a9a"/>
<circle cx="482.40" cy="15.50" r="0.45" fill="#9a9a9a"/>
<circle cx="480.50" cy="13.60" r="0.45" fill="#9a9a9a"/>
<circle cx="479.80" cy="11.00" r="0.45" fill="#9a9a9a"/>
<circle cx="480.50" cy="8.40" r="0.45" fill="#9a9a9a"/>
<circle cx="482.40" cy="6.50" r="0.45" fill="#9a9a9a"/>
<path d="M485 6.8 V11.2 L488 11.6" stroke="#111" stroke-width="1.1" fill="none"/>
<rect x="516.5" y="4.5" width="15" height="13" fill="#fff" stroke="#3a78cc" stroke-width="1.1"/>
<rect x="516" y="4" width="16" height="2.8" fill="#3f7fd0"/><rect x="517.5" y="5" width="5" height="0.9" fill="#a8c8f0"/>
<path d="M518.3 10.5 L520.9 9.3 L523.8 8.2 L526.4 9.3 L529.6 8.4" stroke="#a02000" stroke-width="1.4" fill="none"/>
<rect x="517" y="12" width="14" height="0.9" fill="#5a8ad0"/>
<path d="M519.1 15.6 L521.8 14.4 L524.1 15.6 L527.3 13.4 L529.8 15.6" stroke="#108a10" stroke-width="1.3" fill="none"/>
<polygon points="568,4 568,16 571,13.5 573.5,18.5 575.5,17.5 573,12.5 577,12.5" fill="#444"/>
<path d="M600.5 4 V9 M600.5 14 V19 M593 11.5 H598 M603 11.5 H608 M600 11.5 H601" stroke="#444" stroke-width="1" shape-rendering="crispEdges"/>
<rect x="634" y="5" width="1" height="13" fill="#444" shape-rendering="crispEdges"/>
<rect x="657" y="11" width="12" height="1" fill="#444" shape-rendering="crispEdges"/>
<path d="M685 18 L697 5.5" stroke="#555" stroke-width="1.1"/>
<path d="M710.4 12.8 L723.6 3.8 M712.6 17.4 L725.8 8.6" stroke="#4a4a4a" stroke-width="1.2"/>
<path d="M715.4 7.8 L713.6 17.6 M719 5.4 L717.2 15.2 M722.6 3 L720.8 12.8" stroke="#4a4a4a" stroke-width="1.1"/>
<path d="M711.6 15 L724.8 6.2" stroke="#6a6a6a" stroke-width="0.7"/>
<text x="721.5" y="20" font-size="7" font-weight="bold" fill="#333">E</text>
<path d="M740 4.5 H753" stroke="#555" stroke-width="1" stroke-dasharray="1 1" shape-rendering="crispEdges"/>
<path d="M740 7.5 H753" stroke="#555" stroke-width="1" stroke-dasharray="1 1" shape-rendering="crispEdges"/>
<path d="M740 11.5 H753" stroke="#555" stroke-width="1" stroke-dasharray="1 1" shape-rendering="crispEdges"/>
<path d="M740 15.5 H753" stroke="#555" stroke-width="1" stroke-dasharray="1 1" shape-rendering="crispEdges"/>
<text x="750" y="20" font-size="7" font-weight="bold" fill="#333">F</text>
<text x="770.6" y="15.7" font-size="12" fill="#555" stroke="#555" stroke-width="0.35">A</text>
<rect x="797.5" y="5.5" width="11" height="12" fill="none" stroke="#555" stroke-width="1" stroke-dasharray="1 1" shape-rendering="crispEdges"/>
<text x="799.3" y="16" font-size="11.5" fill="#555" stroke="#555" stroke-width="0.3">T</text>
<polygon points="824,8 828,5 832,8 828,10" fill="#444"/><polygon points="830,15 834,12.5 838,15 834,18" fill="#444"/>
<path d="M826 12 L829 14.5 L835 8" stroke="#444" stroke-width="1.2" fill="none"/>
<text x="871.7" y="14.8" font-size="9.7" fill="#444" letter-spacing="-0.375" stroke="#444" stroke-width="0.15">M1</text>
<text x="899.6" y="14.8" font-size="9.7" fill="#444" letter-spacing="-0.375" stroke="#444" stroke-width="0.15">M5</text>
<text x="925.5" y="14.8" font-size="9.7" fill="#444" letter-spacing="-0.285" stroke="#444" stroke-width="0.15">M15</text>
<text x="953.8" y="14.8" font-size="9.7" fill="#444" letter-spacing="-0.285" stroke="#444" stroke-width="0.15">M30</text>
<text x="984.8" y="14.8" font-size="9.7" fill="#444" letter-spacing="-0.500" stroke="#444" stroke-width="0.15">H1</text>
<text x="1011.7" y="14.8" font-size="9.7" fill="#444" letter-spacing="0.200" stroke="#444" stroke-width="0.15">H4</text>
<text x="1040.6" y="14.8" font-size="9.7" fill="#444" letter-spacing="-0.500" stroke="#444" stroke-width="0.15">D1</text>
<text x="1068.1" y="14.8" font-size="9.7" fill="#444" letter-spacing="0.050" stroke="#444" stroke-width="0.15">W1</text>
<text x="1094.7" y="14.8" font-size="9.7" fill="#444" letter-spacing="-0.085" stroke="#444" stroke-width="0.15">MN</text>
<path d="M1584.5 11.5 L1580 16" stroke="#2a5fd8" stroke-width="2.6" stroke-linecap="round"/>
<circle cx="1587.5" cy="8.5" r="3.8" fill="#f4f8ff" stroke="#2a5fd8" stroke-width="1.3"/>
<ellipse cx="1620" cy="8.3" rx="6.3" ry="4.6" fill="#f4f4f6" stroke="#a8a8a8" stroke-width="1"/>
<polygon points="1622,12.5 1624,15 1625,12" fill="#808080"/>
<ellipse cx="1611.3" cy="12.3" rx="5" ry="3.9" fill="#f4f4f8" stroke="#a8a8a8" stroke-width="1"/>
<polygon points="1608,15.5 1608.5,18 1611,16" fill="#808080"/>
<defs>
<linearGradient id="gb" x1="0" y1="0" x2="0" y2="1"><stop offset="0" stop-color="#5a5aff"/><stop offset="1" stop-color="#2c2ce0"/></linearGradient>
<linearGradient id="gp" x1="0" y1="0" x2="0" y2="1"><stop offset="0" stop-color="#3434d8"/><stop offset="1" stop-color="#0000a8"/></linearGradient>
<linearGradient id="gs" x1="0" y1="0" x2="0" y2="1"><stop offset="0" stop-color="#f4f4f4"/><stop offset="1" stop-color="#dcdcdc"/></linearGradient>
</defs>
<rect x="0" y="46" width="221" height="66" fill="#fff"/>
<rect x="1" y="47" width="52" height="25" fill="url(#gb)" stroke="#0000a0" stroke-width="0"/>
<rect x="168" y="47" width="52" height="25" fill="url(#gb)"/>
<rect x="1" y="71" width="109" height="40" fill="url(#gp)"/>
<rect x="112" y="71" width="108" height="40" fill="url(#gp)"/>
<rect x="1" y="47" width="52" height="1" fill="#0000b0"/><rect x="1" y="47" width="1" height="64" fill="#0000b0"/><rect x="168" y="47" width="52" height="1" fill="#0000b0"/><rect x="219" y="47" width="1" height="64" fill="#0000b0"/>
<rect x="5" y="70.5" width="44" height="1" fill="#7878ee"/><rect x="172" y="70.5" width="44" height="1" fill="#7878ee"/>
<rect x="55.5" y="47.5" width="110" height="21" fill="#fff" stroke="#b4b4b4" stroke-width="1"/>
<rect x="56" y="48" width="20" height="20" fill="url(#gs)"/><rect x="145" y="48" width="20" height="20" fill="url(#gs)"/>
<rect x="76" y="48" width="1" height="20" fill="#b4b4b4"/><rect x="144" y="48" width="1" height="20" fill="#b4b4b4"/>
<polygon points="63,56 68.4,56 65.7,59.2" fill="#000"/><polygon points="152,59.2 157.4,59.2 154.7,56" fill="#000"/>
<text x="116.8" y="62" font-size="12" fill="#222">1.00</text>
<text x="13" y="62.6" font-size="11.3" fill="#fff" letter-spacing="-0.348">SELL</text>
<text x="180.8" y="62.6" font-size="11.5" fill="#fff">BUY</text>
<text x="21.1" y="101.7" font-size="12" fill="#fff" font-weight="bold">1.32</text>
<text x="131.1" y="101.7" font-size="12" fill="#fff" font-weight="bold">1.32</text>
<text x="48.2" y="102" font-size="33" fill="#fff" letter-spacing="-0.506">39</text>
<text x="158.2" y="102" font-size="33" fill="#fff" letter-spacing="-3.106">41</text>
<text x="88" y="85.5" font-size="11.5" font-weight="bold" fill="#fff">2</text>
<text x="199.3" y="85.5" font-size="11.5" font-weight="bold" fill="#fff">6</text>
</svg>
</body></html>
